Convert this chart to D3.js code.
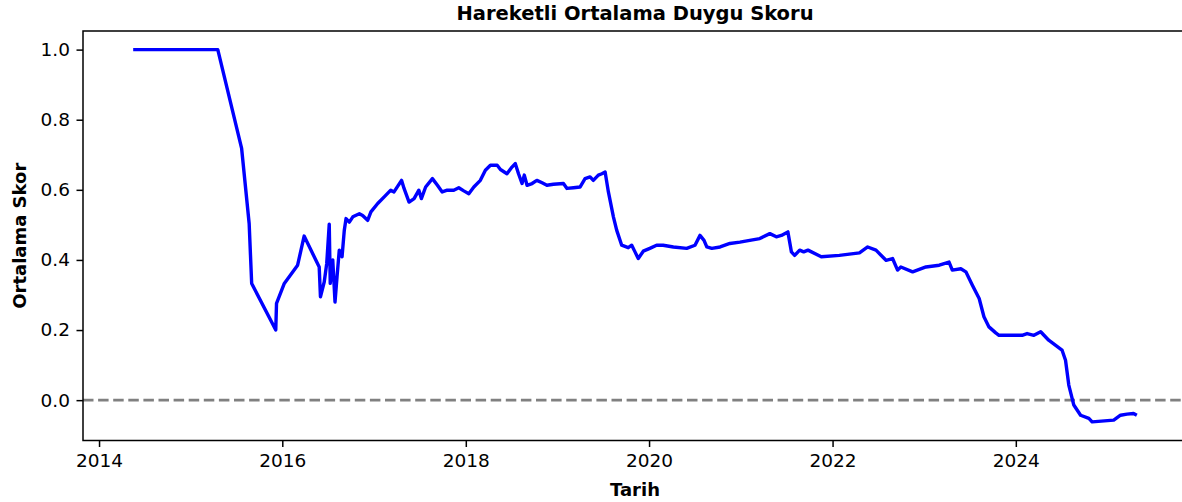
<!DOCTYPE html>
<html>
<head>
<meta charset="utf-8">
<script src="https://cdn.jsdelivr.net/npm/d3@7"></script>
<style>
  html, body { margin: 0; padding: 0; background: #fff; }
  svg { display: block; font-family: "DejaVu Sans", sans-serif; }
</style>
</head>
<body>
<svg id="chart" width="1182" height="502"></svg>
<script>
// Rolling mean sentiment score over time
const dates = [
  "2014-05-17","2015-04-19","2015-07-23","2015-08-22","2015-09-01","2015-12-06","2015-12-09",
  "2016-01-09","2016-03-02","2016-03-28","2016-05-27","2016-06-01","2016-06-16","2016-06-26",
  "2016-07-06","2016-07-10","2016-07-20","2016-07-29","2016-08-06","2016-08-15","2016-08-26",
  "2016-09-04","2016-09-11","2016-09-24","2016-10-08","2016-11-03","2016-11-16","2016-12-06",
  "2016-12-19","2017-01-15","2017-02-10","2017-03-08","2017-03-21","2017-04-20","2017-04-30",
  "2017-05-20","2017-06-09","2017-06-28","2017-07-08","2017-07-25","2017-08-21","2017-09-10",
  "2017-09-29","2017-10-19","2017-11-14","2017-12-04","2017-12-24","2018-01-13","2018-02-02",
  "2018-02-28","2018-03-20","2018-04-09","2018-05-06","2018-05-19","2018-06-14","2018-07-04",
  "2018-07-17","2018-07-30","2018-08-13","2018-08-22","2018-09-02","2018-09-22","2018-10-11",
  "2018-11-01","2018-11-20","2018-12-16","2019-01-25","2019-02-08","2019-03-06","2019-04-01",
  "2019-04-21","2019-05-11","2019-05-24","2019-06-13","2019-06-27","2019-07-10","2019-07-23",
  "2019-08-12","2019-08-25","2019-09-14","2019-10-10","2019-10-24","2019-11-06","2019-11-19",
  "2019-12-09","2020-01-04","2020-01-31","2020-02-26","2020-04-07","2020-05-30","2020-07-02",
  "2020-07-22","2020-08-07","2020-08-18","2020-09-07","2020-10-10","2020-11-18","2020-12-28",
  "2021-02-05","2021-03-17","2021-04-26","2021-05-22","2021-06-11","2021-07-07","2021-07-21",
  "2021-08-03","2021-08-23","2021-09-08","2021-09-25","2021-10-28","2021-11-17","2022-01-28",
  "2022-04-18","2022-05-21","2022-06-23","2022-07-19","2022-08-02","2022-08-28","2022-09-17",
  "2022-09-30","2022-11-16","2023-01-08","2023-03-02","2023-04-10","2023-04-23","2023-05-27",
  "2023-06-16","2023-07-12","2023-08-08","2023-08-27","2023-09-16","2023-10-13","2023-10-26",
  "2024-01-26","2024-02-15","2024-03-13","2024-04-09","2024-05-11","2024-07-03","2024-07-17",
  "2024-07-30","2024-08-19","2024-09-15","2024-10-18","2024-10-31","2025-01-25","2025-02-21",
  "2025-03-19","2025-04-14","2025-04-27"
];
const scores = [
  1.000,1.000,0.718,0.504,0.333,0.200,0.276,
  0.333,0.385,0.468,0.380,0.295,0.337,0.390,
  0.502,0.333,0.400,0.280,0.352,0.428,0.409,
  0.485,0.518,0.508,0.523,0.532,0.527,0.513,
  0.537,0.561,0.580,0.599,0.594,0.627,0.604,
  0.565,0.575,0.599,0.575,0.608,0.632,0.613,
  0.594,0.599,0.599,0.606,0.597,0.589,0.608,
  0.627,0.656,0.670,0.670,0.658,0.646,0.665,
  0.675,0.646,0.618,0.642,0.613,0.618,0.627,
  0.620,0.613,0.616,0.618,0.604,0.606,0.608,
  0.632,0.637,0.627,0.642,0.646,0.651,0.594,
  0.523,0.485,0.442,0.435,0.442,0.423,0.404,
  0.425,0.433,0.442,0.442,0.437,0.433,0.442,
  0.470,0.456,0.437,0.433,0.437,0.447,0.451,
  0.456,0.461,0.475,0.466,0.470,0.480,0.423,
  0.413,0.428,0.423,0.428,0.416,0.409,0.413,
  0.420,0.437,0.428,0.409,0.399,0.404,0.371,
  0.380,0.366,0.380,0.385,0.394,0.371,0.375,
  0.366,0.328,0.290,0.238,0.209,0.192,0.185,
  0.185,0.190,0.185,0.195,0.171,0.143,0.114,
  0.043,-0.014,-0.043,-0.052,-0.062,-0.057,-0.043,
  -0.040,-0.038,-0.043
];
const yTicks = [0.0, 0.2, 0.4, 0.6, 0.8, 1.0];
const xTickYears = [2014, 2016, 2018, 2020, 2022, 2024];
const referenceLevel = 0;

const titleText = "Hareketli Ortalama Duygu Skoru";
const xLabelText = "Tarih";
const yLabelText = "Ortalama Skor";

const parse = d3.timeParse("%Y-%m-%d");
const data = dates.map((d, i) => ({ date: parse(d), value: scores[i] }));

const W = 1182, H = 502;
const plot = { left: 83, right: 1187, top: 31, bottom: 440.5 };

// 5% padding around the data extent on both axes
const tExt = d3.extent(data, d => +d.date);
const tPad = (tExt[1] - tExt[0]) * 0.05;
const vExt = d3.extent(data, d => d.value);
const vPad = (vExt[1] - vExt[0]) * 0.05;

const x = d3.scaleTime()
  .domain([new Date(tExt[0] - tPad), new Date(tExt[1] + tPad)])
  .range([plot.left, plot.right]);
const y = d3.scaleLinear()
  .domain([vExt[0] - vPad, vExt[1] + vPad])
  .range([plot.bottom, plot.top]);

const svg = d3.select("#chart");
svg.append("rect").attr("width", W).attr("height", H).attr("fill", "#fff");

const fontTick = 18.5;

// horizontal reference line at zero
svg.append("line")
  .attr("x1", plot.left).attr("x2", plot.right)
  .attr("y1", y(referenceLevel)).attr("y2", y(referenceLevel))
  .attr("stroke", "#808080")
  .attr("stroke-width", 2.6)
  .attr("stroke-dasharray", "10.5,4.6");

// score line
const line = d3.line()
  .x(d => x(d.date))
  .y(d => y(d.value));
svg.append("path")
  .datum(data)
  .attr("fill", "none")
  .attr("stroke", "#0000ff")
  .attr("stroke-width", 3.4)
  .attr("stroke-linejoin", "round")
  .attr("stroke-linecap", "butt")
  .attr("d", line);

// axes
const xAxis = d3.axisBottom(x)
  .tickValues(xTickYears.map(yr => new Date(yr, 0, 1)))
  .tickFormat(d3.timeFormat("%Y"))
  .tickSize(6.5).tickPadding(6.5);
const yAxis = d3.axisLeft(y)
  .tickValues(yTicks)
  .tickFormat(d3.format(".1f"))
  .tickSize(6.5).tickPadding(6.5);

const gx = svg.append("g")
  .attr("transform", `translate(0,${plot.bottom})`)
  .call(xAxis);
const gy = svg.append("g")
  .attr("transform", `translate(${plot.left},0)`)
  .call(yAxis);

[gx, gy].forEach(g => {
  g.select(".domain").remove();
  g.selectAll(".tick line").attr("stroke", "#000").attr("stroke-width", 1.5);
  g.selectAll(".tick text")
    .attr("fill", "#000")
    .style("font-family", "DejaVu Sans")
    .style("font-size", fontTick + "px");
});

// frame (top, left, bottom spines; right spine falls at the canvas edge)
svg.append("rect")
  .attr("x", plot.left).attr("y", plot.top)
  .attr("width", plot.right - plot.left)
  .attr("height", plot.bottom - plot.top)
  .attr("fill", "none")
  .attr("stroke", "#000")
  .attr("stroke-width", 1.5);

// title and axis labels
svg.append("text")
  .attr("x", (plot.left + plot.right) / 2)
  .attr("y", 20)
  .attr("text-anchor", "middle")
  .style("font-size", "19.5px")
  .style("font-weight", "bold")
  .text(titleText);

svg.append("text")
  .attr("x", (plot.left + plot.right) / 2)
  .attr("y", 496)
  .attr("text-anchor", "middle")
  .style("font-size", "18px")
  .style("font-weight", "bold")
  .text(xLabelText);

svg.append("text")
  .attr("transform", `translate(26,${(plot.top + plot.bottom) / 2}) rotate(-90)`)
  .attr("text-anchor", "middle")
  .style("font-size", "18px")
  .style("font-weight", "bold")
  .text(yLabelText);
</script>
</body>
</html>
